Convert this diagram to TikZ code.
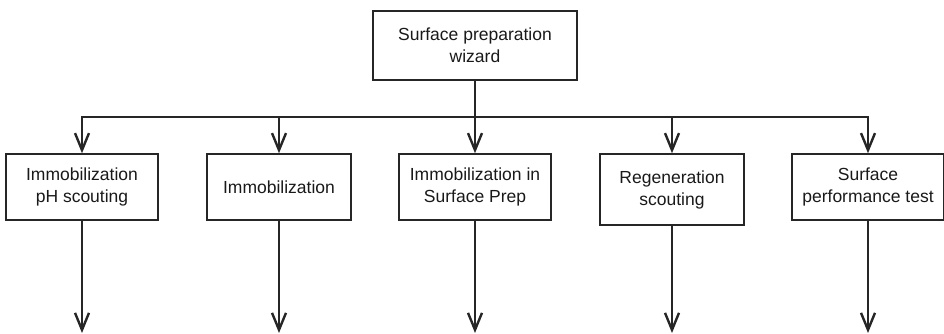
\documentclass[tikz,border=0pt]{standalone}
\usepackage{fontspec}
\setmainfont{Liberation Sans}
\usetikzlibrary{arrows.meta}
\begin{document}
\begin{tikzpicture}[x=1pt,y=1pt,
  box/.style={draw=black!85,line width=1.5pt,rectangle,inner sep=0pt,align=center,
    font=\fontsize{17.5}{22}\selectfont,text=black!90},
  arr/.style={draw=black!85,line width=1.5pt,-{Straight Barb[length=17pt,width=14pt,line width=2.4pt]}},
  lin/.style={draw=black!85,line width=1.5pt}]
\useasboundingbox (0,0) rectangle (944,-333);
\node[box,minimum width=204pt,minimum height=69pt] (top) at (475,-45.5) {Surface preparation\\wizard};
\node[box,minimum width=152pt,minimum height=66pt] (b1) at (82,-187) {Immobilization\\pH scouting};
\node[box,minimum width=144pt,minimum height=66pt] (b2) at (279,-187) {Immobilization};
\node[box,minimum width=152pt,minimum height=66pt] (b3) at (475,-187) {Immobilization in\\Surface Prep};
\node[box,minimum width=144pt,minimum height=71pt] (b4) at (672,-189.5) {Regeneration\\scouting};
\node[box,minimum width=152pt,minimum height=66pt] (b5) at (868,-187) {Surface\\performance test};
\coordinate (j) at (475,-117);
\draw[lin] (top.south) -- (j);
\draw[arr] (j) -| (b1.north);
\draw[arr] (j) -| (b2.north);
\draw[arr] (j) -- (b3.north);
\draw[arr] (j) -| (b4.north);
\draw[arr] (j) -| (b5.north);
\coordinate (e1) at (82,-333);
\coordinate (e2) at (279,-333);
\coordinate (e3) at (475,-333);
\coordinate (e4) at (672,-333);
\coordinate (e5) at (868,-333);
\draw[arr] (b1.south) -- (e1);
\draw[arr] (b2.south) -- (e2);
\draw[arr] (b3.south) -- (e3);
\draw[arr] (b4.south) -- (e4);
\draw[arr] (b5.south) -- (e5);
\end{tikzpicture}
\end{document}
